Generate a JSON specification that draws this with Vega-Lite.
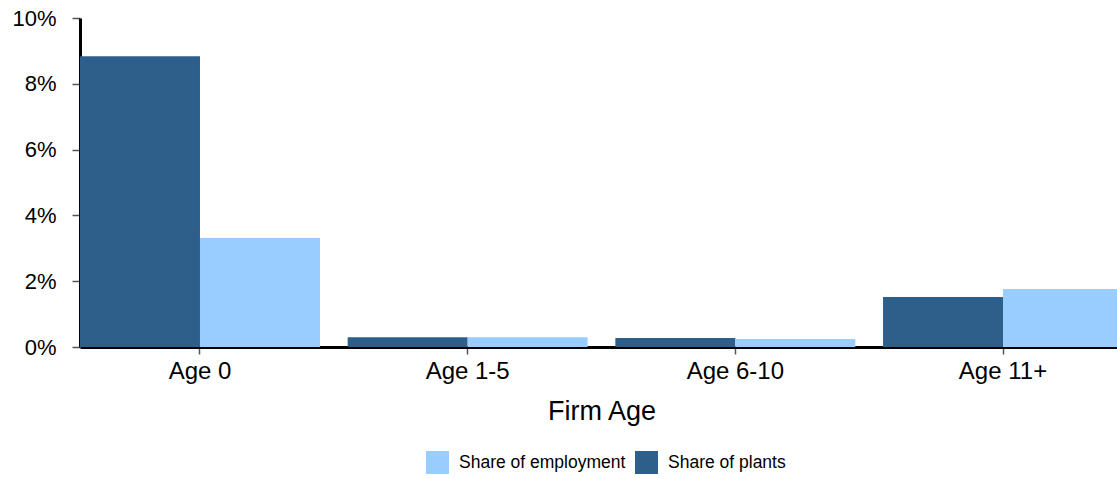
{
  "$schema": "https://vega.github.io/schema/vega-lite/v6.json",
  "width": 1043,
  "height": 329,
  "autosize": {"type": "none"},
  "padding": {"left": 80, "top": 18, "right": 0, "bottom": 132},
  "background": "white",
  "config": {
    "font": "Liberation Sans",
    "view": {"stroke": null},
    "axis": {"grid": false}
  },
  "data": {
    "values": [
      {"age": "Age 0", "series": "Share of plants", "value": 0.0884},
      {"age": "Age 0", "series": "Share of employment", "value": 0.0331},
      {"age": "Age 1-5", "series": "Share of plants", "value": 0.0030},
      {"age": "Age 1-5", "series": "Share of employment", "value": 0.0030},
      {"age": "Age 6-10", "series": "Share of plants", "value": 0.0027},
      {"age": "Age 6-10", "series": "Share of employment", "value": 0.0024},
      {"age": "Age 11+", "series": "Share of plants", "value": 0.0152},
      {"age": "Age 11+", "series": "Share of employment", "value": 0.0176}
    ]
  },
  "mark": {"type": "bar"},
  "encoding": {
    "x": {
      "field": "age",
      "type": "nominal",
      "sort": ["Age 0", "Age 1-5", "Age 6-10", "Age 11+"],
      "scale": {"paddingInner": 0.1035, "paddingOuter": 0},
      "axis": {
        "title": "Firm Age",
        "titleFontSize": 27,
        "titleFontWeight": "normal",
        "titleColor": "#000000",
        "titlePadding": 15,
        "labelAngle": 0,
        "labelFontSize": 24,
        "labelColor": "#000000",
        "labelPadding": 5,
        "domainColor": "#000000",
        "domainWidth": 3,
        "tickColor": "#555555",
        "tickSize": 7,
        "tickWidth": 1.5
      }
    },
    "xOffset": {
      "field": "series",
      "type": "nominal",
      "sort": ["Share of plants", "Share of employment"],
      "scale": {"paddingInner": 0, "paddingOuter": 0}
    },
    "y": {
      "field": "value",
      "type": "quantitative",
      "scale": {"domain": [0, 0.1], "nice": false},
      "axis": {
        "title": null,
        "format": ".0%",
        "values": [0, 0.02, 0.04, 0.06, 0.08, 0.1],
        "labelFontSize": 22,
        "labelColor": "#000000",
        "labelPadding": 16,
        "domainColor": "#000000",
        "domainWidth": 3,
        "tickColor": "#555555",
        "tickSize": 8,
        "tickWidth": 1.5
      }
    },
    "color": {
      "field": "series",
      "type": "nominal",
      "scale": {
        "domain": ["Share of employment", "Share of plants"],
        "range": ["#99CCFF", "#2E5E8A"]
      },
      "legend": {
        "title": null,
        "orient": "none",
        "direction": "horizontal",
        "legendX": 346,
        "legendY": 433,
        "symbolType": "square",
        "symbolSize": 529,
        "symbolStrokeWidth": 0,
        "labelFontSize": 17.5,
        "labelColor": "#000000",
        "labelOffset": 10,
        "labelLimit": 400,
        "columnPadding": 9
      }
    }
  }
}
